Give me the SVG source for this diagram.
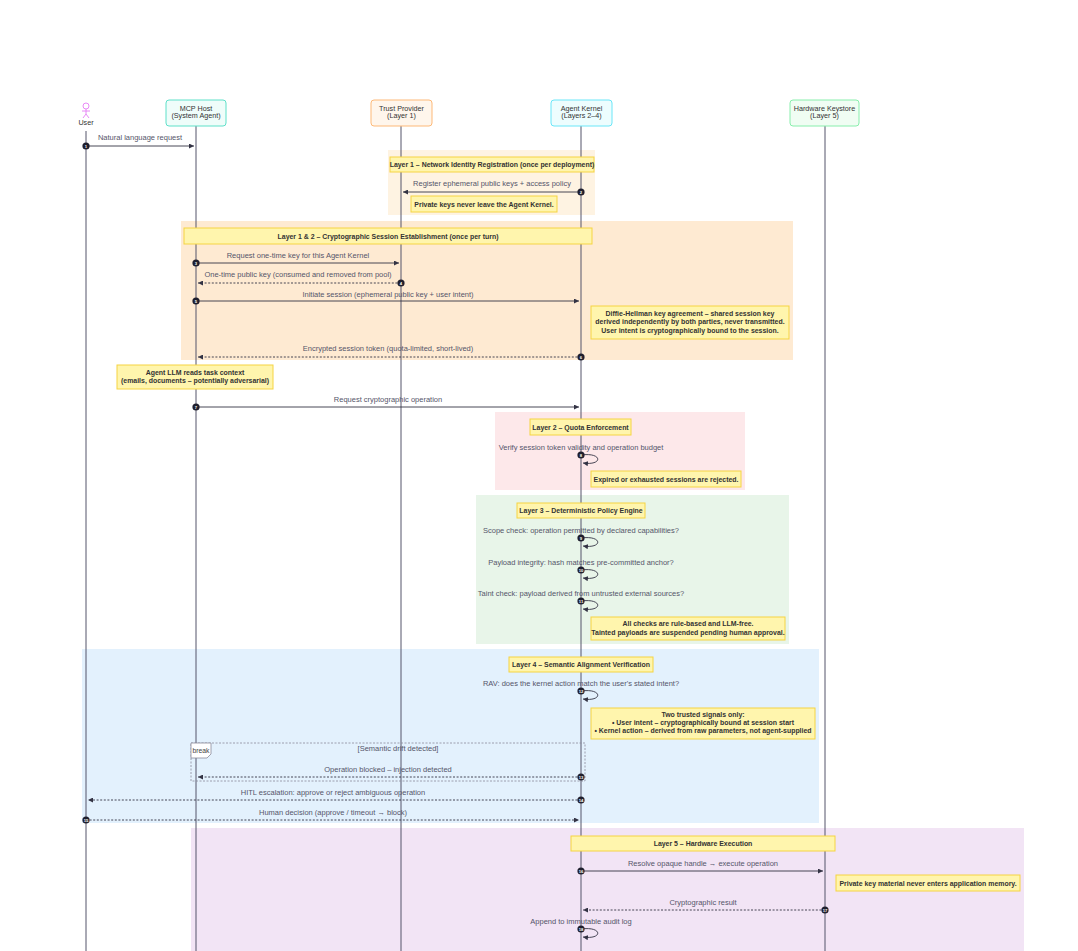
<svg xmlns="http://www.w3.org/2000/svg" width="1078" height="951" viewBox="0 0 1078 951">
<defs>
<style>
text{font-family:"Liberation Sans",Arial,sans-serif;}
.msg{font-size:7.5px;fill:#55556a;text-anchor:middle;}
.note{fill:#fff5ad;stroke:#f5d442;stroke-width:1;}
.nt{font-size:6.95px;font-weight:bold;fill:#333;text-anchor:middle;}
.pt{font-size:7.2px;fill:#333;text-anchor:middle;}
.life{stroke:#55556a;stroke-width:1;}
.ln{stroke:#333344;stroke-width:0.9;fill:none;}
.dash{stroke-dasharray:2,1.6;}
.num{fill:#1f1f2e;}
.nn{font-size:4.2px;fill:#fff;text-anchor:middle;font-weight:bold;}
</style>
<marker id="ah" viewBox="0 0 10 10" refX="10" refY="5" markerWidth="5" markerHeight="5" markerUnits="userSpaceOnUse" orient="auto">
<path d="M0,0 L10,5 L0,10 z" fill="#333344"/>
</marker>
</defs>
<rect width="1078" height="951" fill="#ffffff"/>

<g id="regions">
<rect x="388" y="150" width="207" height="65" fill="#fef3e2"/>
<rect x="181" y="221" width="612" height="139" fill="#feead2"/>
<rect x="495" y="412" width="250" height="78" fill="#fde8ea"/>
<rect x="476" y="495" width="313" height="149" fill="#e8f5e9"/>
<rect x="82" y="649" width="737" height="174" fill="#e3f1fd"/>
<rect x="191" y="828" width="833" height="123" fill="#f2e4f5"/>
</g>

<g id="lifelines">
<line class="life" x1="86" y1="131" x2="86" y2="951"/>
<line class="life" x1="196" y1="126" x2="196" y2="951"/>
<line class="life" x1="401" y1="126" x2="401" y2="951"/>
<line class="life" x1="581" y1="126" x2="581" y2="951"/>
<line class="life" x1="825" y1="126" x2="825" y2="951"/>
</g>

<g id="user">
<g stroke="#e57ef5" stroke-width="0.9" fill="none">
<circle cx="86" cy="106" r="3"/>
<line x1="86" y1="109" x2="86" y2="114"/>
<line x1="82" y1="111" x2="90" y2="111"/>
<line x1="86" y1="114" x2="83" y2="118"/>
<line x1="86" y1="114" x2="89" y2="118"/>
</g>
<text class="pt" x="86" y="124.5" font-size="6.3">User</text>
</g>
<g id="mcp-host">
<rect x="166" y="100" width="60" height="26" rx="3" fill="#effdfa" stroke="#5fe0c9" stroke-width="1"/>
<text class="pt" x="196" y="111.2">MCP Host</text>
<text class="pt" x="196" y="118.4">(System Agent)</text>
</g>
<g id="trust-provider">
<rect x="371" y="100" width="61" height="26" rx="3" fill="#fff6ec" stroke="#fdb978" stroke-width="1"/>
<text class="pt" x="401.5" y="111.2">Trust Provider</text>
<text class="pt" x="401.5" y="118.4">(Layer 1)</text>
</g>
<g id="agent-kernel">
<rect x="551" y="100" width="61" height="26" rx="3" fill="#edfdfe" stroke="#6ae6f8" stroke-width="1"/>
<text class="pt" x="581.5" y="111.2">Agent Kernel</text>
<text class="pt" x="581.5" y="118.4">(Layers 2–4)</text>
</g>
<g id="hardware-keystore">
<rect x="790" y="100" width="69" height="26" rx="3" fill="#f0fdf3" stroke="#88eeac" stroke-width="1"/>
<text class="pt" x="824.5" y="111.2">Hardware Keystore</text>
<text class="pt" x="824.5" y="118.4">(Layer 5)</text>
</g>

<g id="notes">
<rect class="note" x="390" y="157" width="204" height="15"/>
<text class="nt" x="492" y="167">Layer 1 – Network Identity Registration (once per deployment)</text>
<rect class="note" x="411" y="196" width="146" height="16"/>
<text class="nt" x="484" y="206.5">Private keys never leave the Agent Kernel.</text>
<rect class="note" x="184" y="228" width="408" height="16"/>
<text class="nt" x="388" y="238.5">Layer 1 &amp; 2 – Cryptographic Session Establishment (once per turn)</text>
<rect class="note" x="591" y="306" width="198" height="33"/>
<text class="nt" x="690" y="315.5">Diffie-Hellman key agreement – shared session key</text>
<text class="nt" x="690" y="324">derived independently by both parties, never transmitted.</text>
<text class="nt" x="690" y="332.5">User intent is cryptographically bound to the session.</text>
<rect class="note" x="117" y="365" width="156" height="24"/>
<text class="nt" x="195" y="374.5">Agent LLM reads task context</text>
<text class="nt" x="195" y="383">(emails, documents – potentially adversarial)</text>
<rect class="note" x="530" y="419" width="101" height="16"/>
<text class="nt" x="580.5" y="429.5">Layer 2 – Quota Enforcement</text>
<rect class="note" x="591" y="471" width="150" height="16"/>
<text class="nt" x="666" y="481.5">Expired or exhausted sessions are rejected.</text>
<rect class="note" x="517" y="503" width="128" height="15"/>
<text class="nt" x="581" y="513">Layer 3 – Deterministic Policy Engine</text>
<rect class="note" x="591" y="617" width="194" height="23"/>
<text class="nt" x="688" y="626.3">All checks are rule-based and LLM-free.</text>
<text class="nt" x="688" y="634.8">Tainted payloads are suspended pending human approval.</text>
<rect class="note" x="509" y="657" width="144" height="15"/>
<text class="nt" x="581" y="667">Layer 4 – Semantic Alignment Verification</text>
<rect class="note" x="591" y="708" width="224" height="31"/>
<text class="nt" x="703" y="717">Two trusted signals only:</text>
<text class="nt" x="703" y="725">• User intent – cryptographically bound at session start</text>
<text class="nt" x="703" y="733">• Kernel action – derived from raw parameters, not agent-supplied</text>
<rect class="note" x="571" y="836" width="264" height="15"/>
<text class="nt" x="703" y="846">Layer 5 – Hardware Execution</text>
<rect class="note" x="836" y="875" width="184" height="16"/>
<text class="nt" x="928" y="885.5">Private key material never enters application memory.</text>
</g>

<g id="break-frame">
<rect x="191" y="743" width="394" height="38" fill="none" stroke="#8a8a99" stroke-width="0.8" stroke-dasharray="2,1.5"/>
<path d="M191,743 L211,743 L211,754 L207,758 L191,758 Z" fill="#ffffff" stroke="#8a8a99" stroke-width="0.8"/>
<text x="201" y="753" font-size="6.8" fill="#444" text-anchor="middle">break</text>
<text class="msg" x="398" y="750.5">[Semantic drift detected]</text>
</g>

<g id="connectors">
<path class="ln" d="M86,146 L194,146" marker-end="url(#ah)"/>
<path class="ln" d="M581,192 L403,192" marker-end="url(#ah)"/>
<path class="ln" d="M196,263 L399,263" marker-end="url(#ah)"/>
<path class="ln dash" d="M401,283 L198,283" marker-end="url(#ah)"/>
<path class="ln" d="M196,301 L579,301" marker-end="url(#ah)"/>
<path class="ln dash" d="M581,357 L198,357" marker-end="url(#ah)"/>
<path class="ln" d="M196,407 L579,407" marker-end="url(#ah)"/>
<path class="ln" d="M581,455 C603,452 603,466 583,463" marker-end="url(#ah)"/>
<path class="ln" d="M581,538 C603,535 603,549 583,546" marker-end="url(#ah)"/>
<path class="ln" d="M581,570 C603,567 603,581 583,578" marker-end="url(#ah)"/>
<path class="ln" d="M581,601 C603,598 603,612 583,609" marker-end="url(#ah)"/>
<path class="ln" d="M581,691 C603,688 603,702 583,699" marker-end="url(#ah)"/>
<path class="ln dash" d="M581,777 L198,777" marker-end="url(#ah)"/>
<path class="ln dash" d="M581,800 L88,800" marker-end="url(#ah)"/>
<path class="ln dash" d="M86,820 L579,820" marker-end="url(#ah)"/>
<path class="ln" d="M581,871 L823,871" marker-end="url(#ah)"/>
<path class="ln dash" d="M825,910 L583,910" marker-end="url(#ah)"/>
<path class="ln" d="M581,929 C603,926 603,940 583,937" marker-end="url(#ah)"/>

<text class="msg" x="140" y="140">Natural language request</text>
<text class="msg" x="492" y="186">Register ephemeral public keys + access policy</text>
<text class="msg" x="298" y="257.5">Request one-time key for this Agent Kernel</text>
<text class="msg" x="298" y="276.5">One-time public key (consumed and removed from pool)</text>
<text class="msg" x="388" y="296.5">Initiate session (ephemeral public key + user intent)</text>
<text class="msg" x="388" y="351">Encrypted session token (quota-limited, short-lived)</text>
<text class="msg" x="388" y="402">Request cryptographic operation</text>
<text class="msg" x="581" y="450">Verify session token validity and operation budget</text>
<text class="msg" x="581" y="532.5">Scope check: operation permitted by declared capabilities?</text>
<text class="msg" x="581" y="564.5">Payload integrity: hash matches pre-committed anchor?</text>
<text class="msg" x="581" y="596">Taint check: payload derived from untrusted external sources?</text>
<text class="msg" x="581" y="686">RAV: does the kernel action match the user's stated intent?</text>
<text class="msg" x="388" y="771.5">Operation blocked – injection detected</text>
<text class="msg" x="333" y="795">HITL escalation: approve or reject ambiguous operation</text>
<text class="msg" x="333" y="814.5">Human decision (approve / timeout → block)</text>
<text class="msg" x="703" y="865.5">Resolve opaque handle → execute operation</text>
<text class="msg" x="703" y="904.5">Cryptographic result</text>
<text class="msg" x="581" y="924">Append to immutable audit log</text>
</g>

<g id="sequence-numbers">
<circle class="num" cx="86" cy="146" r="3.6"/><text class="nn" x="86" y="147.5">1</text>
<circle class="num" cx="581" cy="192" r="3.6"/><text class="nn" x="581" y="193.5">2</text>
<circle class="num" cx="196" cy="263" r="3.6"/><text class="nn" x="196" y="264.5">3</text>
<circle class="num" cx="401" cy="283" r="3.6"/><text class="nn" x="401" y="284.5">4</text>
<circle class="num" cx="196" cy="301" r="3.6"/><text class="nn" x="196" y="302.5">5</text>
<circle class="num" cx="581" cy="357" r="3.6"/><text class="nn" x="581" y="358.5">6</text>
<circle class="num" cx="196" cy="407" r="3.6"/><text class="nn" x="196" y="408.5">7</text>
<circle class="num" cx="581" cy="455" r="3.6"/><text class="nn" x="581" y="456.5">8</text>
<circle class="num" cx="581" cy="538" r="3.6"/><text class="nn" x="581" y="539.5">9</text>
<circle class="num" cx="581" cy="570" r="3.6"/><text class="nn" x="581" y="571.5">10</text>
<circle class="num" cx="581" cy="601" r="3.6"/><text class="nn" x="581" y="602.5">11</text>
<circle class="num" cx="581" cy="691" r="3.6"/><text class="nn" x="581" y="692.5">12</text>
<circle class="num" cx="581" cy="777" r="3.6"/><text class="nn" x="581" y="778.5">13</text>
<circle class="num" cx="581" cy="800" r="3.6"/><text class="nn" x="581" y="801.5">14</text>
<circle class="num" cx="86" cy="820" r="3.6"/><text class="nn" x="86" y="821.5">15</text>
<circle class="num" cx="581" cy="871" r="3.6"/><text class="nn" x="581" y="872.5">16</text>
<circle class="num" cx="825" cy="910" r="3.6"/><text class="nn" x="825" y="911.5">17</text>
<circle class="num" cx="581" cy="929" r="3.6"/><text class="nn" x="581" y="930.5">18</text>
</g>
</svg>
